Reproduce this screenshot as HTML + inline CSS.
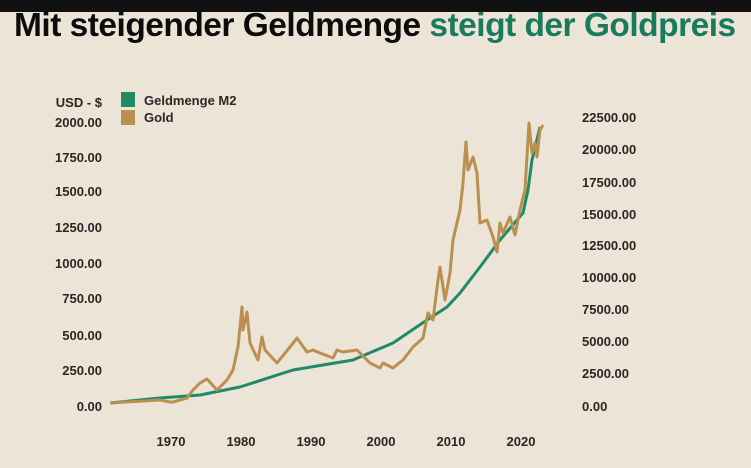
<!DOCTYPE html>
<html><head><meta charset="utf-8"><style>
body{margin:0;width:751px;height:468px;overflow:hidden;background:#ede4d8;font-family:"Liberation Sans",sans-serif}
.bar{position:absolute;left:0;top:0;width:751px;height:12px;background:#111}
.title{position:absolute;left:14px;top:6px;font-size:33px;font-weight:bold;white-space:nowrap;transform:scaleX(1.015);transform-origin:left top;letter-spacing:-0.5px;color:#0c0c0c}
.title span{color:#1a7a5e}
svg{position:absolute;left:0;top:0}
text{font-family:"Liberation Sans",sans-serif;font-weight:bold;font-size:13px;fill:#2a2623}
</style></head><body>
<div class="title">Mit steigender Geldmenge <span>steigt der Goldpreis</span></div>
<div class="bar"></div>
<svg width="751" height="468">
<text x="102" y="107" text-anchor="end" font-size="12">USD - $</text>
<rect x="121" y="92" width="14" height="15" fill="#1f8a68"/>
<rect x="121" y="110" width="14" height="15" fill="#b99050"/>
<text x="144" y="105" font-size="12">Geldmenge M2</text>
<text x="144" y="122" font-size="12">Gold</text>
<g text-anchor="end">
<text x="102" y="127">2000.00</text><text x="102" y="162">1750.00</text><text x="102" y="196">1500.00</text><text x="102" y="232">1250.00</text><text x="102" y="268">1000.00</text><text x="102" y="303">750.00</text><text x="102" y="340">500.00</text><text x="102" y="375">250.00</text><text x="102" y="411">0.00</text>
</g>
<g>
<text x="582" y="122">22500.00</text><text x="582" y="154">20000.00</text><text x="582" y="187">17500.00</text><text x="582" y="219">15000.00</text><text x="582" y="250">12500.00</text><text x="582" y="282">10000.00</text><text x="582" y="314">7500.00</text><text x="582" y="346">5000.00</text><text x="582" y="378">2500.00</text><text x="582" y="411">0.00</text>
</g>
<g text-anchor="middle">
<text x="171" y="446">1970</text><text x="241" y="446">1980</text><text x="311" y="446">1990</text><text x="381" y="446">2000</text><text x="451" y="446">2010</text><text x="521" y="446">2020</text>
</g>
<polyline fill="none" stroke="#1f8a68" stroke-width="3" stroke-linejoin="round" points="110,403 160,398 200,395 240,387 293,370 353,360 360,357 393,343 427,320 447,307 460,293 480,267 500,240 523,213 528,190 532,160 540,127"/>
<polyline fill="none" stroke="#b99050" stroke-width="3" stroke-linejoin="round" points="110,403 160,400 170,402 173,402 187,398 193,390 200,383 207,379 217,390 227,380 233,370 238,347 242,307 243,330 247,312 250,343 257,358 258,360 262,337 265,350 277,363 290,347 297,338 307,352 313,350 320,353 333,358 337,350 343,352 357,350 370,363 380,368 383,363 393,368 403,360 413,347 423,338 428,313 433,320 438,280 440,267 445,300 450,273 453,240 460,210 463,183 466,142 468,170 473,157 477,173 480,223 487,220 493,237 497,252 500,223 503,233 510,217 515,235 520,210 525,190 529,123 532,153 535,143 537,157 540,130 543,125"/>
</svg>
</body></html>
